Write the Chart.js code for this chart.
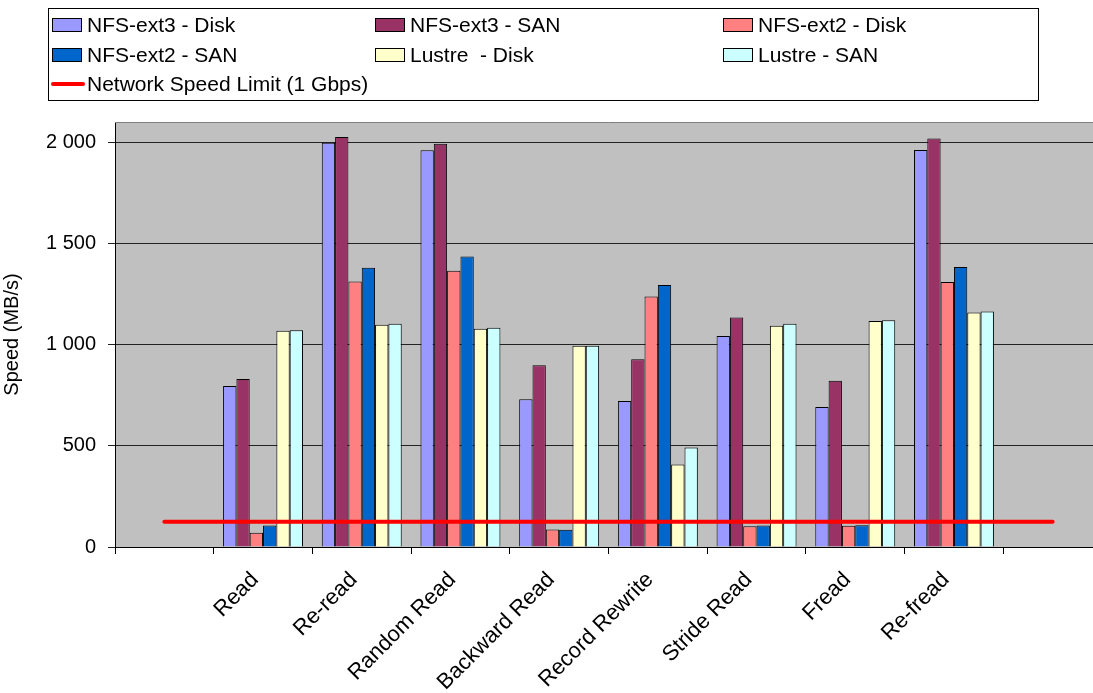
<!DOCTYPE html>
<html>
<head>
<meta charset="utf-8">
<script src="https://cdn.jsdelivr.net/npm/chart.js@4/dist/chart.umd.min.js"></script>
<style>
  html, body { margin: 0; padding: 0; background: #fff; overflow: hidden; }
  #wrap { width: 1093px; height: 693px; overflow: hidden; }
</style>
</head>
<body>
<div id="wrap"><canvas id="ioChart" width="1105" height="693"></canvas></div>
<script>
// first and last slots are empty, like the original sheet
const categories = ['', 'Read', 'Re-read', 'Random Read', 'Backward Read', 'Record Rewrite', 'Stride Read', 'Fread', 'Re-fread', ''];

const nfsExt3Disk = [null, 795, 1997, 1960, 730, 722, 1042, 692, 1962, null];
const nfsExt3San  = [null, 830, 2026, 1992, 898, 928, 1134, 821, 2018, null];
const nfsExt2Disk = [null, 70, 1312, 1365, 87, 1238, 103, 105, 1309, null];
const nfsExt2San  = [null, 106, 1380, 1436, 85, 1294, 106, 108, 1383, null];
const lustreDisk  = [null, 1068, 1098, 1078, 994, 408, 1093, 1117, 1159, null];
const lustreSan   = [null, 1071, 1103, 1083, 995, 492, 1103, 1121, 1164, null];
const networkLimit = [125, 125, 125, 125, 125, 125, 125, 125, 125, 125];

const yTicks = [0, 500, 1000, 1500, 2000];

const FONT = "'Liberation Sans', Arial, sans-serif";

function fmt(v) {
  return String(v).replace(/\B(?=(\d{3})+(?!\d))/g, ' ');
}

function bar(label, data, color) {
  return {
    type: 'bar', label, data,
    backgroundColor: color, borderColor: '#000', borderWidth: 1,
    categoryPercentage: 0.81, barPercentage: 1, order: 1
  };
}

// gray plot background + legend box drawn by hand (3 columns)
const plotAndLegend = {
  id: 'plotAndLegend',
  beforeDatasetsDraw(chart) {
    const { ctx, chartArea: a } = chart;
    ctx.save();
    ctx.strokeStyle = '#808080';
    ctx.lineWidth = 1;
    ctx.beginPath();
    ctx.moveTo(a.left, a.top + 0.5);
    ctx.lineTo(a.right, a.top + 0.5);
    ctx.stroke();
    ctx.restore();
  },
  beforeDraw(chart) {
    const { ctx, chartArea: a } = chart;
    ctx.save();
    ctx.fillStyle = '#C0C0C0';
    ctx.fillRect(a.left, a.top, a.right - a.left, a.bottom - a.top);
    ctx.restore();
  },
  afterDraw(chart) {
    const ctx = chart.ctx;
    const cols = [52, 375, 723];
    const rows = [25, 55, 84];
    ctx.save();
    ctx.strokeStyle = '#000';
    ctx.lineWidth = 1;
    ctx.strokeRect(48.5, 8.5, 990, 92);
    ctx.font = '21px ' + FONT;
    ctx.textBaseline = 'middle';
    ctx.fillStyle = '#000';
    chart.data.datasets.forEach((ds, i) => {
      const x = cols[i % 3];
      const y = rows[Math.floor(i / 3)];
      if (ds.type === 'line') {
        ctx.strokeStyle = ds.borderColor;
        ctx.lineWidth = 4;
        ctx.lineCap = 'round';
        ctx.beginPath();
        ctx.moveTo(x + 1, y);
        ctx.lineTo(x + 31, y);
        ctx.stroke();
      } else {
        ctx.fillStyle = ds.backgroundColor;
        ctx.fillRect(x, y - 7, 30, 14);
        ctx.strokeStyle = '#000';
        ctx.lineWidth = 1;
        ctx.strokeRect(x + 0.5, y - 6.5, 29, 13);
      }
      ctx.fillStyle = '#000';
      ctx.fillText(ds.label, x + 35, y + 1);
    });
    ctx.restore();
  }
};

new Chart(document.getElementById('ioChart'), {
  data: {
    labels: categories,
    datasets: [
      bar('NFS-ext3 - Disk', nfsExt3Disk, '#9999FF'),
      bar('NFS-ext3 - SAN', nfsExt3San, '#993366'),
      bar('NFS-ext2 - Disk', nfsExt2Disk, '#FF8080'),
      bar('NFS-ext2 - SAN', nfsExt2San, '#0066CC'),
      bar('Lustre  - Disk', lustreDisk, '#FFFFCC'),
      bar('Lustre - SAN', lustreSan, '#CCFFFF'),
      {
        type: 'line', label: 'Network Speed Limit (1 Gbps)', data: networkLimit,
        borderColor: '#FF0000', borderWidth: 4, borderCapStyle: 'round',
        pointRadius: 0, fill: false, order: 0
      }
    ]
  },
  options: {
    responsive: false,
    animation: false,
    layout: { padding: { top: 122, left: 0, right: 3, bottom: 0 } },
    plugins: {
      legend: { display: false },
      tooltip: { enabled: false }
    },
    scales: {
      x: {
        offset: true,
        afterFit(scale) { scale.height = 146; },
        grid: { offset: true, drawOnChartArea: false, color: '#000', tickLength: 7 },
        border: { color: '#000' },
        ticks: {
          autoSkip: false, minRotation: 45, maxRotation: 45, padding: 13, labelOffset: -8,
          color: '#000', font: { family: FONT, size: 22 }
        }
      },
      y: {
        min: 0, max: 2100,
        afterFit(scale) { scale.width = 115; },
        afterBuildTicks(scale) { scale.ticks = yTicks.map(v => ({ value: v })); },
        grid: { color: '#222', tickLength: 7 },
        border: { color: '#000' },
        ticks: {
          padding: 12, color: '#000', font: { family: FONT, size: 20 },
          callback: v => fmt(v)
        },
        title: {
          display: true, text: 'Speed (MB/s)', color: '#000',
          font: { family: FONT, size: 20 }, padding: { top: 0, bottom: 0 }
        }
      }
    }
  },
  plugins: [plotAndLegend]
});
</script>
</body>
</html>
